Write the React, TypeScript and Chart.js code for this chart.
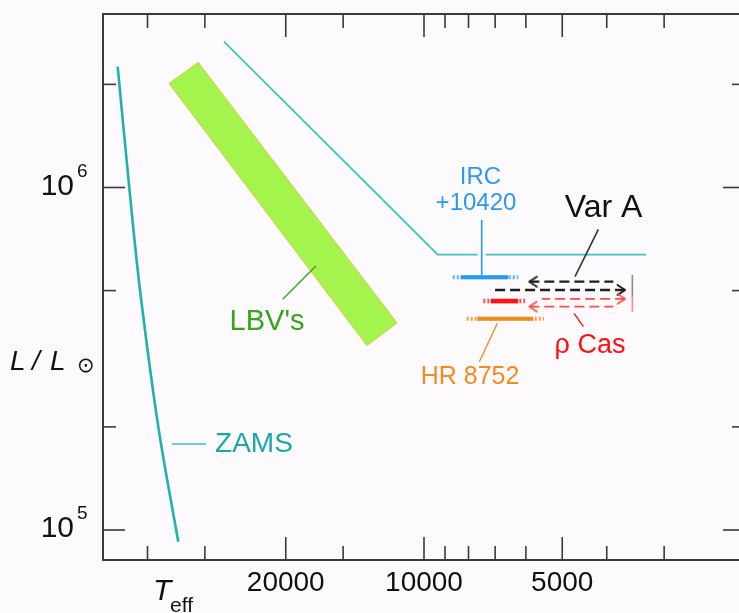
import React, { useEffect, useRef } from "react";
import { Chart, registerables } from "chart.js";

Chart.register(...registerables);

const FONT = '"Liberation Sans", Arial, Helvetica, sans-serif';

// ---------- axes ----------
const tempRange = [2000, 50000];
const lumRange = [81740, 3.21e6];
const tempTicks = [40000, 30000, 20000, 15000, 10000, 9000, 8000, 7000, 6000, 5000, 4000, 3000];
const tempTickLabels = [20000, 10000, 5000];
const lumTicks = [1e5, 2e5, 5e5, 1e6, 2e6];
const lumTickLabels = [1e5, 1e6];

// ---------- curves ----------
const zamsT = [46450, 43830, 41530, 37890, 34280];
const zamsL = [2.253e6, 1.0e6, 5.02e5, 2.0e5, 9.24e4];

const hdLimitT = [27260, 9335, 3285];
const hdLimitL = [2.666e6, 6.366e5, 6.366e5];

const lbvBandT = [35920, 31010, 11440, 13310, 35920];
const lbvBandL = [2.012e6, 2.32e6, 4.022e5, 3.452e5, 2.012e6];

// ---------- stars ----------
const ircL = 5.47e5;
const ircSolidT = [8318, 6553];
const ircRangeT = [8658, 6233];

const rhoL = 4.66e5;
const rhoSolidT = [7158, 6233];
const rhoRangeT = [7428, 6025];

const hrL = 4.14e5;
const hrSolidT = [7655, 5779];
const hrRangeT = [8073, 5478];

// arrows: first value is the arrow tip
const varALeftT = [5896, 3870];
const varALeftL = 5.31e5;
const varARightT = [3649, 7183];
const varARightL = 5.02e5;
const rhoRightT = [3649, 5541];
const rhoRightL = 4.73e5;
const rhoLeftT = [5896, 3870];
const rhoLeftL = 4.49e5;

const markerT = 3518;
const markerGreyL = [5.554e5, 4.82e5];
const markerRedL = [4.82e5, 4.34e5];

// ---------- label connectors ----------
const zamsConnT = [35380, 29830];
const zamsConnL = [1.783e5, 1.783e5];
const lbvConnT = [20310, 17190];
const lbvConnL = [4.716e5, 5.9e5];
const ircConnT = [7488, 7488];
const ircConnL = [8.036e5, 5.554e5];
const varAConnT = [4172, 4690];
const varAConnL = [7.55e5, 5.49e5];
const rhoConnT = [4713, 4498];
const rhoConnL = [4.292e5, 3.924e5];
const hrConnT = [6923, 7578];
const hrConnL = [4.013e5, 3.1e5];

// ---------- labels ----------
const labelTexts = ["ZAMS", "LBV's", "IRC", "+10420", "Var A", "ρ Cas", "HR 8752"];
const labelT = [28510, 21970, 7533, 7705, 4064, 4350, 7940];
const labelL = [1.783e5, 4.049e5, 1.07e6, 8.98e5, 8.71e5, 3.446e5, 2.797e5];
const labelStyles = [
  { color: "#17a9a9", size: 28, align: "left" },
  { color: "#38a31d", size: 29, align: "center" },
  { color: "#2a9af0", size: 24, align: "center" },
  { color: "#2a9af0", size: 24, align: "center" },
  { color: "#111111", size: 32, align: "center" },
  { color: "#ff1010", size: 27, align: "center" },
  { color: "#f28b1f", size: 25, align: "center" },
];

const AXIS = "#3a3a3a";
const TEAL = "#1db1b1";
const TEAL_LIGHT = "#3cc3c3";
const BLUE = "#2a9af0";
const RED = "#ff1414";
const RED_LIGHT = "#ff4a4a";
const ORANGE = "#f28b1f";
const BLACK = "#1e1e1e";

const pts = (t: number[], l: number[]) => t.map((v, i) => ({ x: v, y: l[i] }));
const hpts = (t: number[], l: number) => t.map((v) => ({ x: v, y: l }));
const vpts = (t: number, l: number[]) => l.map((v) => ({ x: t, y: v }));

function makeArrow(color: string, w: number) {
  const c = document.createElement("canvas");
  c.width = 26;
  c.height = 26;
  const g = c.getContext("2d")!;
  g.strokeStyle = color;
  g.lineWidth = w;
  g.lineCap = "round";
  g.lineJoin = "round";
  g.beginPath();
  g.moveTo(20.5, 8);
  g.lineTo(13, 13);
  g.lineTo(20.5, 18);
  g.stroke();
  return c;
}

function seg(data: any[], color: string, width: number, extra: any = {}) {
  return {
    data,
    showLine: true,
    borderColor: color,
    backgroundColor: color,
    borderWidth: width,
    pointRadius: 0,
    pointHoverRadius: 0,
    fill: false,
    ...extra,
  };
}

const framePlugin = {
  id: "frameTicks",
  afterDatasetsDraw(chart: any) {
    const { ctx, chartArea: a, scales } = chart;
    const xs = scales.x;
    const ys = scales.y;
    ctx.save();
    ctx.strokeStyle = AXIS;
    ctx.lineWidth = 1.6;
    const ln = (x1: number, y1: number, x2: number, y2: number) => {
      ctx.beginPath();
      ctx.moveTo(x1, y1);
      ctx.lineTo(x2, y2);
      ctx.stroke();
    };
    tempTicks.forEach((v) => {
      const px = xs.getPixelForValue(v);
      const len = tempTickLabels.includes(v) ? 23 : 14;
      ln(px, a.bottom, px, a.bottom - len);
      ln(px, a.top, px, a.top + len);
    });
    lumTicks.forEach((v) => {
      const py = ys.getPixelForValue(v);
      const len = lumTickLabels.includes(v) ? 22 : 13;
      ln(a.left, py, a.left + len, py);
      ln(a.right, py, a.right - len, py);
    });
    ctx.lineWidth = 2;
    ctx.strokeRect(a.left, a.top, a.right - a.left, a.bottom - a.top);

    // y tick labels 10^n
    ctx.fillStyle = "#111";
    lumTickLabels.forEach((v) => {
      const py = ys.getPixelForValue(v);
      ctx.font = `30px ${FONT}`;
      ctx.textAlign = "right";
      ctx.textBaseline = "middle";
      ctx.fillText("10", a.left - 29, py - 1);
      ctx.font = `19px ${FONT}`;
      ctx.textAlign = "left";
      ctx.fillText(String(Math.round(Math.log10(v))), a.left - 26, py - 16);
    });

    // axis titles
    ctx.textBaseline = "alphabetic";
    ctx.textAlign = "left";
    ctx.font = `italic 28px ${FONT}`;
    ctx.fillText("L", 10, 370);
    ctx.fillText("/", 32, 370);
    ctx.fillText("L", 50, 370);
    ctx.font = `21px "DejaVu Sans", ${FONT}`;
    ctx.textBaseline = "middle";
    ctx.fillText("⊙", 77, 367);
    ctx.textBaseline = "alphabetic";
    ctx.font = `italic 30px ${FONT}`;
    ctx.fillText("T", 153, 600);
    ctx.font = `21px ${FONT}`;
    ctx.fillText("eff", 170, 612);

    // annotation labels
    labelTexts.forEach((txt, i) => {
      const st = labelStyles[i];
      ctx.font = `${st.size}px ${FONT}`;
      ctx.fillStyle = st.color;
      ctx.textAlign = st.align;
      ctx.textBaseline = "middle";
      ctx.fillText(txt, xs.getPixelForValue(labelT[i]), ys.getPixelForValue(labelL[i]));
    });
    ctx.restore();
  },
};

export default function App() {
  const ref = useRef<HTMLCanvasElement | null>(null);

  useEffect(() => {
    if (!ref.current) return;
    const arrowBlack = makeArrow(BLACK, 2);
    const arrowRed = makeArrow(RED_LIGHT, 1.6);
    const arrowOpts = (img: HTMLCanvasElement, rot: number) => ({
      pointStyle: img,
      pointRotation: rot,
      pointRadius: (c: any) => (c.dataIndex === 0 ? 6 : 0),
    });

    const layers: any[] = [
      seg(pts(lbvBandT, lbvBandL), "#e8c34a", 1, { fill: "shape", backgroundColor: "#a3f54e" }),
      seg(pts(zamsT, zamsL), TEAL, 2.6, { tension: 0.35 }),
      seg(pts(hdLimitT, hdLimitL), TEAL_LIGHT, 1.8),
      seg(pts(ircConnT, ircConnL), "#fdfafd", 8),
      seg(pts(ircConnT, ircConnL), BLUE, 1.6),
      seg(pts(zamsConnT, zamsConnL), TEAL_LIGHT, 1.6),
      seg(pts(lbvConnT, lbvConnL), "#38a31d", 1.4),
      seg(pts(varAConnT, varAConnL), "#333", 1.6),
      seg(pts(rhoConnT, rhoConnL), RED, 1.4),
      seg(pts(hrConnT, hrConnL), ORANGE, 1.4),
      seg(hpts(ircRangeT, ircL), "#5fb4f5", 4, { borderDash: [2, 2] }),
      seg(hpts(ircSolidT, ircL), BLUE, 4),
      seg(hpts(rhoRangeT, rhoL), "#ff5050", 4.5, { borderDash: [2, 2] }),
      seg(hpts(rhoSolidT, rhoL), RED, 4.5),
      seg(hpts(hrRangeT, hrL), "#f5a04a", 4, { borderDash: [2, 2] }),
      seg(hpts(hrSolidT, hrL), ORANGE, 4),
      seg(hpts(varALeftT, varALeftL), BLACK, 2.2, { borderDash: [10, 5], ...arrowOpts(arrowBlack, 0) }),
      seg(hpts(varARightT, varARightL), BLACK, 2.6, { borderDash: [10, 5], ...arrowOpts(arrowBlack, 180) }),
      seg(hpts(rhoRightT, rhoRightL), RED_LIGHT, 1.6, { borderDash: [10, 5], ...arrowOpts(arrowRed, 180) }),
      seg(hpts(rhoLeftT, rhoLeftL), RED_LIGHT, 1.6, { borderDash: [10, 5], ...arrowOpts(arrowRed, 0) }),
      seg(vpts(markerT, markerGreyL), "#8a8a8a", 1.6),
      seg(vpts(markerT, markerRedL), "#ff8a8a", 1.6),
    ];
    const n = layers.length;
    layers.forEach((d, i) => (d.order = n - i));

    const chart = new Chart(ref.current, {
      type: "scatter",
      data: { datasets: layers },
      options: {
        animation: false,
        responsive: false,
        events: [],
        layout: { padding: { left: 0, right: 15, top: 14, bottom: 0 } },
        plugins: { legend: { display: false }, tooltip: { enabled: false } },
        scales: {
          x: {
            type: "logarithmic",
            reverse: true,
            min: tempRange[0],
            max: tempRange[1],
            grid: { display: false, drawTicks: false },
            border: { display: false },
            afterBuildTicks: (s: any) => {
              s.ticks = tempTicks.map((v) => ({ value: v }));
            },
            afterFit: (s: any) => {
              s.height = 53;
            },
            ticks: {
              autoSkip: false,
              maxRotation: 0,
              padding: 6,
              color: "#111",
              font: { family: FONT, size: 28 },
              callback: (v: any) => (tempTickLabels.includes(Number(v)) ? String(v) : ""),
            },
          },
          y: {
            type: "logarithmic",
            min: lumRange[0],
            max: lumRange[1],
            grid: { display: false, drawTicks: false },
            border: { display: false },
            ticks: { display: false },
            afterFit: (s: any) => {
              s.width = 103;
            },
          },
        },
      },
      plugins: [framePlugin],
    });
    return () => chart.destroy();
  }, []);

  return (
    <div
      style={{
        position: "fixed",
        left: 0,
        top: 0,
        width: 739,
        height: 613,
        overflow: "hidden",
        background: "#fdfafd",
      }}
    >
      <canvas ref={ref} width={760} height={613} style={{ display: "block", width: 760, height: 613 }} />
    </div>
  );
}
